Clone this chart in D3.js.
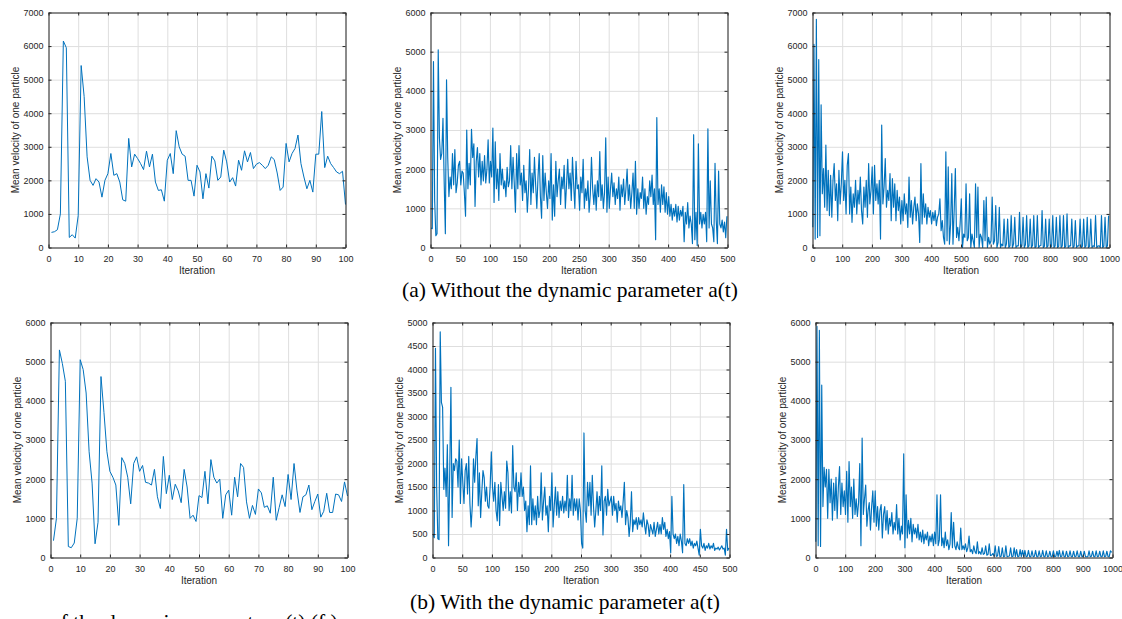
<!DOCTYPE html>
<html>
<head>
<meta charset="utf-8">
<script src="https://cdn.jsdelivr.net/npm/d3@7"></script>
<style>
body { margin: 0; background: #fff; }
svg text { font-family: "Liberation Sans", Arial, sans-serif; }
svg text.serif { font-family: "Liberation Serif", "Times New Roman", serif; }
</style>
</head>
<body>
<svg id="chart" width="1122" height="619"></svg>
<script>
// mean velocity of one particle
// (a) without a(t), 100 iterations (every iteration)
const velA100 = [450,470,530,1000,6150,5950,300,380,280,950,
  5420,4500,2700,2000,1850,2050,1950,1500,2000,2200,
  2800,2150,2200,1950,1420,1380,3250,2400,2780,2650,
  2500,2320,2870,2400,2780,1950,1700,1720,1380,2600,
  2800,2200,3480,3000,2780,2720,2000,2000,1530,2450,
  2250,1450,2200,1770,2720,2580,2000,2100,2900,2550,
  1950,2080,1830,2600,2300,2880,2550,2830,2350,2480,
  2530,2450,2350,2450,2700,2620,2220,1700,1800,3100,
  2550,2800,2950,3350,2500,2100,1750,2000,1650,2780,
  2780,4050,2380,2720,2500,2380,2250,2200,2270,1280];

// (a) 500 iterations, read every 2nd iteration
const velA500 = [
  500,480,4750,1200,300,350,5050,2800,2250,2400,3300,1700,350,4280,2300,1300,1800,1500,2400,1600,2500,1400,1650,2100,2200,
  1600,1950,1900,1400,800,3000,1500,2150,1600,3020,2300,2650,1050,2200,2550,1800,2400,1600,2200,1700,2350,1650,2000,2750,1650,
  2200,1800,3050,1150,2700,1500,2000,1200,2400,1600,2000,1500,1700,1300,2050,1550,1700,2600,1500,2300,1650,900,2400,1500,2600,
  1600,1900,1200,2100,1400,1700,900,1500,2500,1100,1900,1400,2300,1600,1000,1800,2400,1300,750,2350,1200,1900,1400,1000,1700,
  1250,2400,700,1600,800,2200,1300,1700,2000,1100,1800,1500,2100,1000,1600,2250,1500,1900,1200,2300,1600,1000,2200,1500,1600,
  950,1800,1400,2250,1000,1500,1200,1700,900,1350,2300,1500,1100,1600,950,1700,1300,2450,1200,1600,1000,1400,2800,900,1800,
  1000,1500,1900,1300,1650,1100,1500,1250,1800,950,1600,1300,1750,1100,1500,2000,1200,1600,1000,1400,1900,1000,2200,850,1500,
  1000,1400,1250,1800,1000,1500,850,1300,1100,1700,1300,1850,1100,1500,200,3320,1100,1500,900,1600,1100,1550,900,1400,850,
  1300,800,1100,700,1000,800,1100,650,1050,700,950,800,1050,150,900,600,1150,500,800,600,100,2880,200,900,50,
  2650,600,900,500,850,600,900,150,3030,500,1700,600,500,150,2150,700,100,1950,600,500,700,400,650,250,800];

// (a) 1000 iterations, read every 4th iteration
const velA1000 = [
  600,6050,250,6800,300,5600,350,4250,1600,2350,1200,3050,1100,2300,950,2150,900,2000,2500,1400,1900,800,2300,1300,1900,
  2850,1400,2000,1000,2450,2800,1000,1800,750,1600,1200,2000,1000,1700,1300,2100,1100,700,1800,1200,2000,900,2500,1300,1700,
  2400,1000,2450,1400,1900,1300,2000,250,3650,1300,1800,2650,1200,1700,1400,2200,800,2050,1200,1900,800,1700,1100,1500,700,
  1400,800,1600,1000,1300,600,2100,900,1400,700,1200,1500,800,1300,1000,150,2500,700,1600,900,1300,700,1200,900,1100,
  700,1050,800,1100,650,900,1000,1450,500,800,300,100,2850,200,2400,100,700,2200,100,1100,2350,300,600,200,700,
  1450,0,400,300,1900,200,300,1600,0,400,200,0,1900,300,1800,0,400,300,0,1400,200,1500,0,300,100,
  200,1500,100,200,1250,0,150,1200,0,100,50,850,0,100,850,0,50,950,0,100,900,0,50,50,1050,
  0,50,900,0,80,950,0,50,850,0,60,950,0,30,950,0,50,60,1100,0,40,850,0,50,850,
  0,40,950,0,50,900,0,40,950,0,50,950,0,40,1000,0,50,50,850,0,40,800,0,50,50,
  850,0,40,850,0,50,900,0,40,850,0,50,30,950,0,40,50,0,950,0,40,900,0,50,950];

// (b) with a(t), 100 iterations
const velB100 = [430,1000,5300,4950,4500,280,250,370,1000,5050,
  4800,4200,2700,1900,350,900,4620,3700,2700,2200,
  2050,1850,820,2550,2400,2050,1370,2400,2570,2200,
  2350,1920,1900,1850,2250,1550,1250,2580,1630,2100,
  1480,1870,1700,1400,2250,1800,1000,1080,920,1580,
  1530,2200,1370,2500,2050,1900,2000,1000,1600,1720,
  1080,2050,1550,2400,2300,1420,1000,1330,1100,1750,
  1650,1280,1320,1130,2050,950,1280,1600,1300,2120,
  1480,2400,1700,1150,1550,1600,1850,1220,1430,1620,
  1030,1180,1640,1150,1150,1620,1600,1430,1930,1570];

// (b) 500 iterations, every 2nd iteration
const velB500 = [
  500,420,4450,1500,400,380,4800,3300,3200,1450,1900,1300,2400,250,1800,3620,850,2000,1850,2100,2050,1500,2500,1150,2100,
  1600,1150,1850,2000,1350,2150,1150,650,1100,2100,1600,2150,2530,1100,1800,850,1400,1850,1700,1200,1500,1100,1050,1500,2250,
  1500,1200,1600,1000,780,1550,680,1600,1300,1000,1400,1050,2050,1800,1000,1400,950,2380,1500,1400,1800,1000,1600,1300,1800,
  1300,1500,1000,1200,550,1100,700,1950,700,1250,800,1100,700,1300,850,1000,1800,800,1200,1500,900,1100,550,1300,1000,
  1800,650,1100,1500,900,1400,850,1200,1000,1300,950,1200,1000,1750,850,1250,1000,1750,900,1250,1000,1250,800,1250,1000,
  300,200,2650,1000,750,1600,1100,1600,900,1750,1100,650,1000,1400,900,1300,1000,1950,480,1200,1300,900,1450,1100,1200,
  1300,900,1300,1000,1150,750,1200,1000,1100,850,1200,1600,700,1000,850,450,750,1400,550,800,700,850,600,850,700,
  800,650,950,700,500,800,700,450,700,600,500,750,450,600,750,500,700,500,850,600,750,450,600,400,550,
  100,1300,500,400,500,300,450,250,500,350,100,1550,300,250,400,300,400,250,350,200,300,250,350,200,50,
  600,250,200,300,150,250,200,300,180,250,200,300,150,200,180,220,160,200,250,180,200,50,600,150,200];

// (b) 1000 iterations, every 4th iteration
const velB1000 = [
  400,5900,300,5800,280,4400,1300,2300,1800,2250,1000,2250,1400,2000,950,1900,1200,2050,1000,1800,2320,1100,1900,1300,1700,
  1100,2200,900,2450,1300,1800,1000,2000,1100,1500,1050,1400,2400,300,3050,1100,1500,1850,800,1200,1400,700,1300,1700,900,
  1700,800,1300,700,1200,1350,500,1100,1300,700,1200,600,1000,800,1150,600,900,700,1350,600,1000,450,800,600,2650,
  250,1600,500,950,600,1000,400,850,600,750,500,850,450,650,400,700,350,600,450,650,300,550,400,600,300,
  650,350,1600,300,450,1600,300,500,250,650,300,450,200,350,1150,250,900,300,200,400,250,200,750,200,300,
  200,350,150,250,550,150,200,100,300,150,100,400,100,150,80,250,80,100,300,60,80,350,50,60,100,
  40,300,30,40,280,20,30,250,20,30,300,20,30,40,250,20,30,250,20,200,20,30,200,20,180,
  20,180,20,30,180,20,20,170,20,30,180,20,20,170,20,30,180,20,20,170,20,30,160,20,20,
  170,20,30,160,20,180,20,30,170,20,20,160,20,30,170,20,20,160,20,30,170,20,20,160,20,
  30,160,20,20,20,170,20,30,160,20,20,170,20,30,160,20,20,170,20,30,160,20,20,170,130];

// tick labels
const xTicks100 = [0,10,20,30,40,50,60,70,80,90,100];
const xTicks500 = [0,50,100,150,200,250,300,350,400,450,500];
const xTicks1000 = [0,100,200,300,400,500,600,700,800,900,1000];
const yTicks7000 = [0,1000,2000,3000,4000,5000,6000,7000];
const yTicks6000 = [0,1000,2000,3000,4000,5000,6000];
const yTicks5000 = [0,500,1000,1500,2000,2500,3000,3500,4000,4500,5000];

const captions = ["(a) Without the dynamic parameter a(t)", "(b) With the dynamic parameter a(t)"];

const svg = d3.select("#chart");
const W = 297, H = 235;
const axisColor = "#262626";
const gridColor = "#dedede";
const lineColor = "#0072bd";

const panels = [
  {vals: velA100, step: 1, xMax: 100, xt: xTicks100, yt: yTicks7000, left: 48, top: 12},
  {vals: velA500, step: 2, xMax: 500, xt: xTicks500, yt: yTicks6000, left: 430, top: 12},
  {vals: velA1000, step: 4, xMax: 1000, xt: xTicks1000, yt: yTicks7000, left: 812, top: 12},
  {vals: velB100, step: 1, xMax: 100, xt: xTicks100, yt: yTicks6000, left: 50, top: 322},
  {vals: velB500, step: 2, xMax: 500, xt: xTicks500, yt: yTicks5000, left: 432, top: 322},
  {vals: velB1000, step: 4, xMax: 1000, xt: xTicks1000, yt: yTicks6000, left: 815, top: 322}
];

panels.forEach((p, k) => {
  const g = svg.append("g").attr("transform", `translate(${p.left + 0.5},${p.top + 0.5})`);
  const x = d3.scaleLinear().domain([0, p.xMax]).range([0, W]);
  const y = d3.scaleLinear().domain([0, d3.max(p.yt)]).range([H, 0]);

  // grid
  const grid = g.append("g").attr("class", "grid");
  grid.append("g").attr("transform", `translate(0,${H})`)
    .call(d3.axisBottom(x).tickValues(p.xt).tickSize(-H).tickFormat(""));
  grid.append("g")
    .call(d3.axisLeft(y).tickValues(p.yt).tickSize(-W).tickFormat(""));
  grid.selectAll(".domain").remove();
  grid.selectAll("line").attr("stroke", gridColor);

  const clipId = "clip" + k;
  g.append("clipPath").attr("id", clipId)
    .append("rect").attr("x", -1).attr("y", -1).attr("width", W + 2).attr("height", H + 2);

  const line = d3.line()
    .x((d, i) => x(1 + i * p.step))
    .y(d => y(d));

  g.append("path")
    .datum(p.vals)
    .attr("clip-path", `url(#${clipId})`)
    .attr("fill", "none")
    .attr("stroke", lineColor)
    .attr("stroke-width", p.step > 1 ? 1.15 : 1)
    .attr("stroke-linejoin", "round")
    .attr("d", line);

  // axes (ticks inside, box on)
  const ax = g.append("g").attr("class", "axes");
  ax.append("g").attr("transform", `translate(0,${H})`)
    .call(d3.axisBottom(x).tickValues(p.xt).tickSize(-3).tickSizeOuter(0).tickPadding(8).tickFormat(d3.format("d")));
  ax.append("g")
    .call(d3.axisLeft(y).tickValues(p.yt).tickSize(-3).tickSizeOuter(0).tickPadding(5).tickFormat(d3.format("d")));
  ax.append("g")
    .call(d3.axisTop(x).tickValues(p.xt).tickSize(-3).tickSizeOuter(0).tickFormat(""));
  ax.append("g").attr("transform", `translate(${W},0)`)
    .call(d3.axisRight(y).tickValues(p.yt).tickSize(-3).tickSizeOuter(0).tickFormat(""));

  ax.selectAll(".domain").attr("stroke", axisColor);
  ax.selectAll(".tick line").attr("stroke", axisColor);
  ax.selectAll(".tick text").attr("fill", axisColor).attr("font-size", 9);

  g.append("text")
    .attr("x", W / 2).attr("y", H + 26)
    .attr("text-anchor", "middle")
    .attr("font-size", 10).attr("fill", axisColor)
    .text("Iteration");

  g.append("text")
    .attr("transform", `translate(-30,${H / 2}) rotate(-90)`)
    .attr("text-anchor", "middle")
    .attr("font-size", 10).attr("fill", axisColor)
    .text("Mean velocity of one particle");
});

svg.selectAll(".caption").data(captions).enter().append("text")
  .attr("class", "caption serif")
  .attr("x", (d, i) => i === 0 ? 570 : 565)
  .attr("y", (d, i) => i === 0 ? 297 : 609)
  .attr("text-anchor", "middle")
  .attr("font-size", 21.5)
  .attr("fill", "#000")
  .text(d => d);

// first line of the following paragraph, cut off by the page edge
svg.append("text")
  .attr("class", "serif")
  .attr("x", 50).attr("y", 629)
  .attr("font-size", 21.5)
  .attr("fill", "#000")
  .text("of the dynamic parameter a(t) (f.)");
</script>
</body>
</html>
